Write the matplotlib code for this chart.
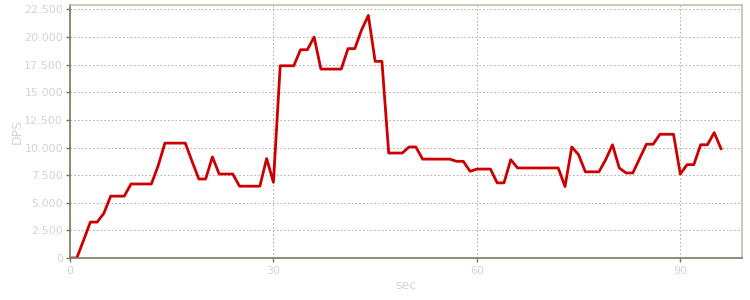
import matplotlib
matplotlib.use("Agg")
import matplotlib.pyplot as plt
from matplotlib.ticker import FuncFormatter

# DPS sampled once per second
seconds = list(range(97))
dps = [
    0, 0, 1600, 3250, 3250, 4050, 5600, 5600, 5600, 6700,
    6700, 6700, 6700, 8350, 10400, 10400, 10400, 10400, 8750, 7150,
    7150, 9150, 7600, 7600, 7600, 6500, 6500, 6500, 6500, 9000,
    6850, 17400, 17400, 17400, 18850, 18850, 20000, 17100, 17100, 17100,
    17100, 18950, 18950, 20650, 21950, 17800, 17800, 9500, 9500, 9500,
    10050, 10050, 8950, 8950, 8950, 8950, 8950, 8750, 8750, 7850,
    8050, 8050, 8050, 6800, 6800, 8900, 8150, 8150, 8150, 8150,
    8150, 8150, 8150, 6470, 10050, 9350, 7800, 7800, 7800, 8900,
    10250, 8150, 7700, 7700, 9000, 10300, 10300, 11200, 11200, 11200,
    7600, 8450, 8450, 10250, 10250, 11350, 9900,
]
y_ticks = [0, 2500, 5000, 7500, 10000, 12500, 15000, 17500, 20000, 22500]
x_ticks = [0, 30, 60, 90]

label_color = "#d4d4d4"
grid_color = "#a8a898"

fig = plt.figure(figsize=(7.5, 3), dpi=100)
ax = fig.add_axes([70 / 750, 42 / 300, 672 / 750, 253 / 300])

ax.plot(seconds, dps, color="#cc0000", linewidth=2, solid_joinstyle="round")

ax.set_xlim(0, 99.1)
ax.set_ylim(0, 22900)
ax.set_xticks(x_ticks)
ax.set_yticks(y_ticks)
ax.yaxis.set_major_formatter(FuncFormatter(lambda v, p: f"{int(v):,}".replace(",", ".")))

ax.grid(True, color=grid_color, linestyle=(0, (2, 2.5)), linewidth=0.6)
ax.set_axisbelow(True)

for side in ("left", "bottom"):
    ax.spines[side].set_color("#7a7a60")
    ax.spines[side].set_linewidth(1.2)
for side in ("top", "right"):
    ax.spines[side].set_color("#c0c0b0")
    ax.spines[side].set_linewidth(1.2)

ax.tick_params(axis="both", colors="#7a7a60", labelcolor=label_color,
               labelsize=8, length=3, width=1)
ax.tick_params(axis="y", pad=2)
ax.tick_params(axis="x", pad=3)

ax.set_xlabel("sec", color=label_color, fontsize=9, labelpad=2)
ax.set_ylabel("DPS", color=label_color, fontsize=9, labelpad=0)

fig.savefig("out.png", dpi=100, facecolor="white")
